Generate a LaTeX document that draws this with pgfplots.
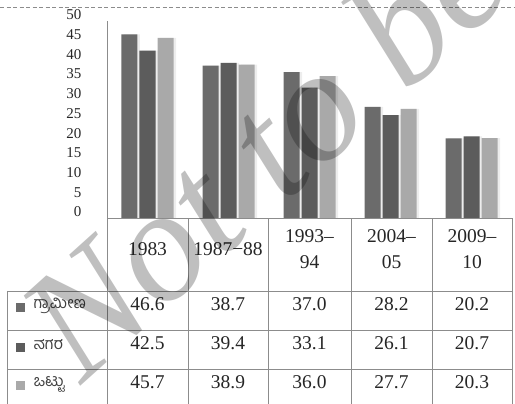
\documentclass[border=0pt]{standalone}
\usepackage{pgfplots}
\pgfplotsset{compat=1.18}
\usepackage{fontspec}
\setmainfont{Liberation Serif}
\newfontfamily\kan[Script=Kannada]{Hind Mysuru}
\definecolor{cR}{HTML}{6B6B6B}
\definecolor{cU}{HTML}{5C5C5C}
\definecolor{cT}{HTML}{A9A9A9}
\definecolor{lin}{HTML}{8C8C8C}
\begin{document}
\begin{tikzpicture}[x=1pt,y=1pt]
\useasboundingbox (0,0) rectangle (515,404);
\begin{axis}[
  at={(107pt,186pt)}, anchor=south west,
  width=405pt, height=197pt, scale only axis,
  xmin=-0.5, xmax=4.5, ymin=0, ymax=50,
  ybar=2pt, bar width=16pt,
  hide x axis,
  axis y line*=left,
  y axis line style={draw=lin, line width=0.8pt, -},
  ytick={0,5,...,50},
  major tick length=0pt,
  /pgf/number format/assume math mode=true,
  yticklabel style={font=\fontsize{15}{15}\selectfont, text=black!85, xshift=-22pt, yshift=6pt},
  clip=false,
]
\addplot[fill=cR, draw=none, preaction={fill=black, fill opacity=0.07, transform canvas={xshift=2.5pt}}] coordinates {(0,46.6) (1,38.7) (2,37.0) (3,28.2) (4,20.2)};
\addplot[fill=cU, draw=none, preaction={fill=black, fill opacity=0.07, transform canvas={xshift=2.5pt}}] coordinates {(0,42.5) (1,39.4) (2,33.1) (3,26.1) (4,20.7)};
\addplot[fill=cT, draw=none, preaction={fill=black, fill opacity=0.07, transform canvas={xshift=2.5pt}}] coordinates {(0,45.7) (1,38.9) (2,36.0) (3,27.7) (4,20.3)};
\end{axis}
% top dashed rule
\draw[lin, line width=0.8pt, dash pattern=on 4pt off 2.5pt] (0,397) -- (515,397);
% data table
\begin{scope}[lin, line width=0.8pt]
\draw (107,185.5) -- (512,185.5);
\draw (7,113) -- (512,113);
\draw (7,74) -- (512,74);
\draw (7,35) -- (512,35);
\foreach \xx in {107,188,268,351,432,512} {\draw (\xx,185.5) -- (\xx,-5);}
\draw (7,113) -- (7,-5);
\end{scope}
\begin{scope}[font=\fontsize{19.5}{26}\selectfont, text=black!85]
\node at (147.5,154.5) {1983};
\node at (228,154.5) {1987−88};
\node[align=center] at (309.5,154.5) {1993–\\94};
\node[align=center] at (391.5,154.5) {2004–\\05};
\node[align=center] at (472,154.5) {2009–\\10};
\foreach \xx/\a/\b/\c in {147.5/46.6/42.5/45.7, 228/38.7/39.4/38.9, 309.5/37.0/33.1/36.0, 391.5/28.2/26.1/27.7, 472/20.2/20.7/20.3} {
  \node at (\xx,100) {\a};
  \node at (\xx,60.5) {\b};
  \node at (\xx,22) {\c};
}
\end{scope}
% legend keys
\fill[cR] (16,91.5) rectangle (25,100.5);
\fill[cU] (16,52) rectangle (25,61);
\fill[cT] (16,13.5) rectangle (25,22.5);
\begin{scope}[font=\kan\fontsize{16}{16}\selectfont, text=black!75]
\node[anchor=west] at (30,98) {ಗ್ರಾಮೀಣ};
\node[anchor=west] at (30,59) {ನಗರ};
\node[anchor=west] at (30,20) {ಒಟ್ಟು};
\end{scope}
% watermark
\node[overlay, inner sep=0pt, rotate=42, text=black, text opacity=0.25, font=\fontsize{160}{160}\selectfont\itshape] at (263,255) {Not to be};
\end{tikzpicture}
\end{document}
